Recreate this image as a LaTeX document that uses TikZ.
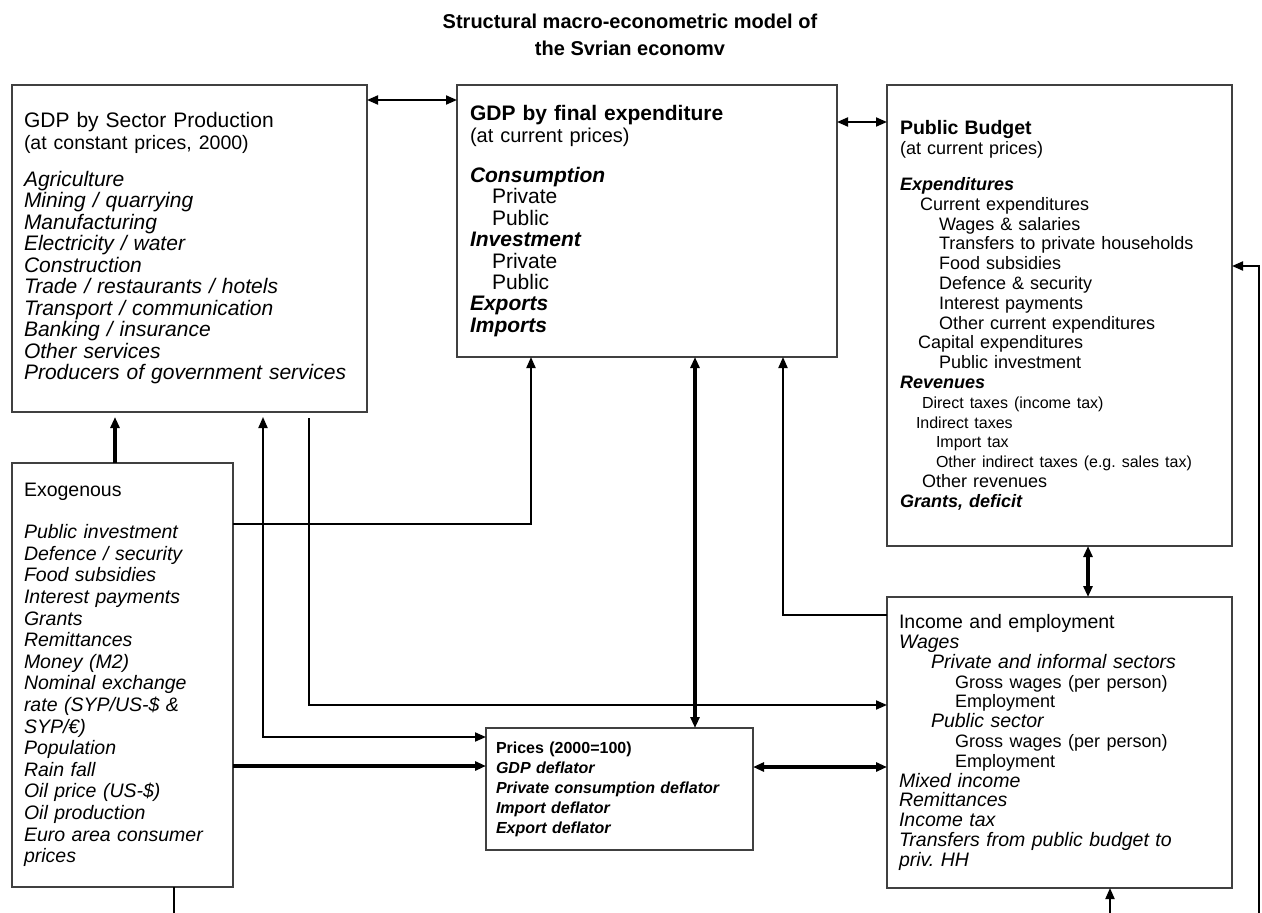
\documentclass[tikz,border=0pt]{standalone}
\usepackage{fontspec}
\setmainfont{Liberation Sans}
\usetikzlibrary{arrows.meta, positioning}

\newcommand{\hin}[1]{\hspace*{#1pt}}

\begin{document}
\begin{tikzpicture}[x=1pt, y=-1pt,
    >={Triangle[length=11pt,width=9pt]},
    block/.style={draw=black!75, line width=1.3pt, anchor=north west, align=left, inner ysep=0pt, outer sep=0pt},
    link/.style={line width=1.9pt},
    heavy/.style={line width=3.2pt},
]
  \useasboundingbox (0,0) rectangle (1262,913);

  \node[font=\bfseries\fontsize{20}{27}\selectfont, align=center] (title) at (630,35)
    {Structural macro-econometric model of\\ the Svrian economv};

  % boxes
  \node[block, inner xsep=12pt, minimum width=355pt, minimum height=327pt, text width=331pt,
        font=\fontsize{21}{21.5}\selectfont] (sector) at (12,85) {
    GDP by Sector Production\\
    {\fontsize{19.5}{21.5}\selectfont (at constant prices, 2000)}\\[15.5pt]
    \textit{Agriculture}\\
    \textit{Mining / quarrying}\\
    \textit{Manufacturing}\\
    \textit{Electricity / water}\\
    \textit{Construction}\\
    \textit{Trade / restaurants / hotels}\\
    \textit{Transport / communication}\\
    \textit{Banking / insurance}\\
    \textit{Other services}\\
    \textit{Producers of government services}
  };
  \node[block, inner xsep=13pt, minimum width=380pt, minimum height=272pt, text width=354pt,
        font=\fontsize{21}{21.4}\selectfont] (finalexp) at (457,85) {
    \textbf{GDP by final expenditure}\\
    {\fontsize{20}{21.4}\selectfont (at current prices)}\\[19pt]
    \textbf{\textit{Consumption}}\\
    \hin{22}Private\\
    \hin{22}Public\\
    \textbf{\textit{Investment}}\\
    \hin{22}Private\\
    \hin{22}Public\\
    \textbf{\textit{Exports}}\\
    \textbf{\textit{Imports}}
  };
  \node[block, inner xsep=13pt, minimum width=345pt, minimum height=461pt, text width=319pt,
        font=\fontsize{18}{19.8}\selectfont] (budget) at (887,85) {
    {\bfseries\fontsize{19.5}{19.8}\selectfont Public Budget}\\
    (at current prices)\\[16pt]
    \textbf{\textit{Expenditures}}\\
    \hin{20}Current expenditures\\
    \hin{39}Wages \& salaries\\
    \hin{39}Transfers to private households\\
    \hin{39}Food subsidies\\
    \hin{39}Defence \& security\\
    \hin{39}Interest payments\\
    \hin{39}Other current expenditures\\
    \hin{18}Capital expenditures\\
    \hin{39}Public investment\\
    \textbf{\textit{Revenues}}\\
    {\fontsize{16}{19.8}\selectfont\hin{22}Direct taxes (income tax)}\\
    {\fontsize{16}{19.8}\selectfont\hin{16}Indirect taxes}\\
    {\fontsize{16}{19.8}\selectfont\hin{36}Import tax}\\
    {\fontsize{16}{19.8}\selectfont\hin{36}Other indirect taxes (e.g.\ sales tax)}\\
    \hin{22}Other revenues\\
    \textbf{\textit{Grants, deficit}}
  };
  \node[block, inner xsep=12pt, minimum width=221pt, minimum height=424pt, text width=197pt,
        font=\fontsize{19.5}{21.6}\selectfont] (exog) at (12,463) {
    Exogenous\\[20.5pt]
    \textit{Public investment}\\
    \textit{Defence / security}\\
    \textit{Food subsidies}\\
    \textit{Interest payments}\\
    \textit{Grants}\\
    \textit{Remittances}\\
    \textit{Money (M2)}\\
    \textit{Nominal exchange}\\
    \textit{rate (SYP/US-\$ \&}\\
    \textit{SYP/€)}\\
    \textit{Population}\\
    \textit{Rain fall}\\
    \textit{Oil price (US-\$)}\\
    \textit{Oil production}\\
    \textit{Euro area consumer}\\
    \textit{prices}
  };
  \node[block, inner xsep=10pt, minimum width=267pt, minimum height=122pt, text width=247pt,
        font=\bfseries\fontsize{16}{20}\selectfont] (prices) at (486,728) {
    Prices (2000=100)\\
    \textit{GDP deflator}\\
    \textit{Private consumption deflator}\\
    \textit{Import deflator}\\
    \textit{Export deflator}
  };
  \node[block, inner xsep=12pt, minimum width=345pt, minimum height=291pt, text width=321pt,
        font=\fontsize{19.5}{19.8}\selectfont] (income) at (887,597) {
    Income and employment\\
    \textit{Wages}\\
    \hin{32}\textit{Private and informal sectors}\\
    \hin{56}{\fontsize{18}{19.8}\selectfont Gross wages (per person)}\\
    \hin{56}{\fontsize{18}{19.8}\selectfont Employment}\\
    \hin{32}\textit{Public sector}\\
    \hin{56}{\fontsize{18}{19.8}\selectfont Gross wages (per person)}\\
    \hin{56}{\fontsize{18}{19.8}\selectfont Employment}\\
    \textit{Mixed income}\\
    \textit{Remittances}\\
    \textit{Income tax}\\
    \textit{Transfers from public budget to}\\
    \textit{priv.\ HH}
  };

  % links between the top boxes
  \draw[<->, link] ([yshift=-15pt]sector.north east) -- ([yshift=-15pt]finalexp.north west);
  \draw[<->, link] ([yshift=-37pt]finalexp.north east) -- ([yshift=-37pt]budget.north west);
  \draw[<->, heavy] ([xshift=201pt]budget.south west) -- ([xshift=201pt]income.north west);

  % exogenous inputs
  \draw[->, heavy, shorten >=5pt] ([xshift=103pt]exog.north west) -- ([xshift=103pt]sector.south west);
  \draw[->, link] ([yshift=-61pt]exog.north east) -| ([xshift=74pt]finalexp.south west);
  \draw[->, heavy] ([yshift=-303pt]exog.north east) -- ([yshift=-38pt]prices.north west);

  % sector production to prices and income
  \draw[<->, link, shorten <=5pt] ([xshift=251pt]sector.south west) |- ([yshift=-9pt]prices.north west);
  \draw[->, link] ([xshift=297pt,yshift=-6pt]sector.south west) |- ([yshift=-108pt]income.north west);

  % final expenditure, prices and income
  \draw[<->, heavy] ([xshift=238pt]finalexp.south west) -- ([xshift=209pt]prices.north west);
  \draw[->, link] ([yshift=-18pt]income.north west) -| ([xshift=326pt]finalexp.south west);
  \draw[<->, heavy] ([yshift=-39pt]prices.north east) -- ([yshift=-170pt]income.north west);

  % links running off the page
  \coordinate (exogout) at (174,913);
  \coordinate (incomein) at (1110,913);
  \coordinate (budgetin) at (1259,913);
  \draw[line width=1.3pt] ([xshift=162pt]exog.south west) -- (exogout);
  \draw[->, link] (incomein) -- (incomein |- income.south);
  \draw[->, link] (budgetin) |- ([yshift=-181pt]budget.north east);
\end{tikzpicture}
\end{document}
